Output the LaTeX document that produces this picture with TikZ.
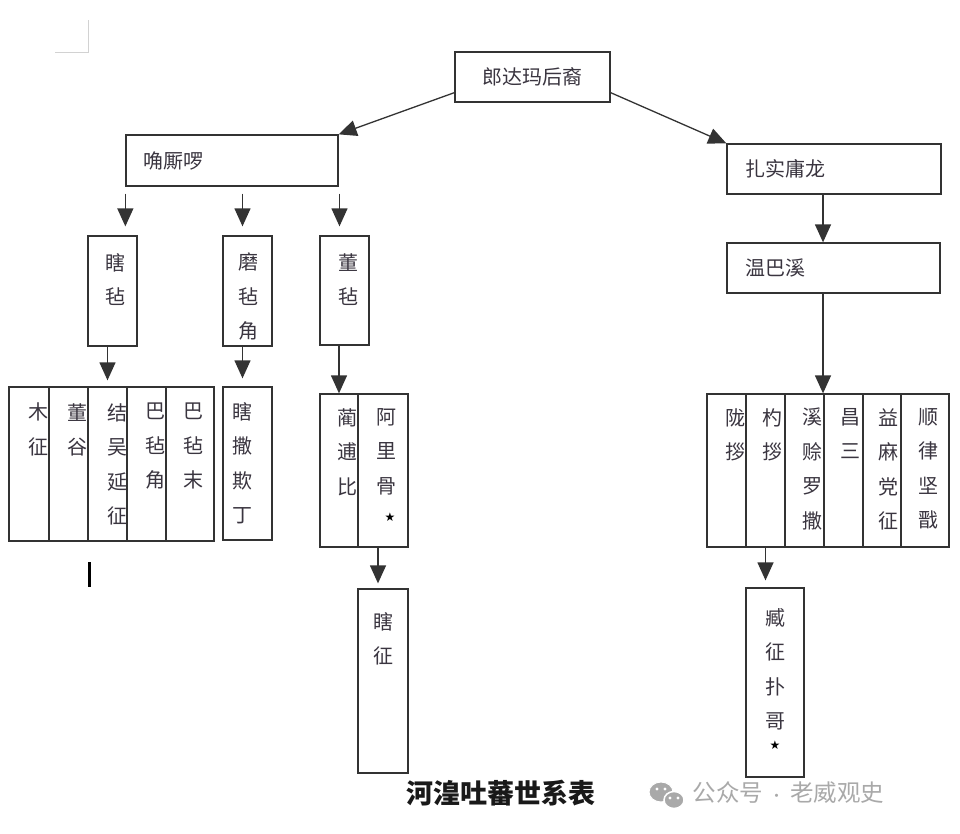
\documentclass[tikz,border=0pt]{standalone}
\usepackage{fontspec}
\setmainfont{Noto Sans CJK SC}
\newfontfamily\symfont{DejaVu Sans}
\usetikzlibrary{calc,arrows.meta}
\definecolor{boxline}{HTML}{333333}
\definecolor{inkgray}{HTML}{3A3540}
\definecolor{markgray}{HTML}{A9A9A9}

\begin{document}
\begin{tikzpicture}[x=1pt,y=-1pt,
  box/.style={draw=boxline,line width=1.3pt,inner sep=0pt},
  hbox/.style={box,text=inkgray,font=\fontsize{20}{24}\selectfont},
  vtext/.style={text=inkgray,inner sep=0pt,anchor=north,align=center,font=\fontsize{20}{34.5}\selectfont},
  starmark/.style={inner sep=0pt,text=black,font=\symfont\fontsize{12}{12}\selectfont},
  arr/.style={draw=boxline,line width=1.3pt,-{Triangle[length=18pt,width=16pt]}}]
\fill[white] (0,0) rectangle (960,833);
\useasboundingbox (0,0) rectangle (960,833);
\draw[gray!35,line width=1pt] (55,52) -- (88,52) -- (88,20);
% upper boxes
\node[hbox,minimum width=155pt,minimum height=50pt] (root) at (532.5,77) {郎达玛后裔};
\node[hbox,minimum height=51pt,text width=178pt,inner xsep=17pt,align=left] (jsl) at (232,160.5) {唃厮啰};
\node[hbox,minimum height=50pt,text width=178pt,inner xsep=18pt,align=left] (zsyl) at (834,169) {扎实庸龙};
\node[hbox,minimum height=50pt,text width=177pt,inner xsep=18pt,align=left] (wbx) at (833.5,268) {温巴溪};
% sons of jsl
\node[box,minimum width=49pt,minimum height=110pt] (xz) at (112.5,291) {};
\node[vtext] (xz-t) at (115,253) {瞎\\毡};
\node[box,minimum width=49pt,minimum height=110pt] (mzj) at (247.5,291) {};
\node[vtext] (mzj-t) at (248,253) {磨\\毡\\角};
\node[box,minimum width=49pt,minimum height=109pt] (dz) at (344.5,290.5) {};
\node[vtext] (dz-t) at (348,253) {董\\毡};
% third row, left
\foreach \n/\cx/\w/\tx/\t in {mz/29/40/38/{木\\征}, dg/68.5/39/77/{董\\谷}, jwyz/107.5/39/117/{结\\吴\\延\\征}, bzj/146.5/39/155/{巴\\毡\\角}, bzm/190/48/193/{巴\\毡\\末}} {
  \node[box,minimum width=\w pt,minimum height=154pt] (\n) at (\cx,464) {};
  \node[vtext] (\n-t) at (\tx,403) {\t};
}
\node[box,minimum width=49pt,minimum height=153pt] (xsqd) at (247.5,463.5) {};
\node[vtext] (xsqd-t) at (242,402) {瞎\\撒\\欺\\丁};
\foreach \n/\cx/\w/\tx/\t in {lbb/339/38/347/{蔺\\逋\\比}, alg/383/50/386/{阿\\里\\骨}} {
  \node[box,minimum width=\w pt,minimum height=153pt] (\n) at (\cx,470.5) {};
  \node[vtext] (\n-t) at (\tx,408) {\t};
}
\node[starmark] (alg-s) at (390,517) {★};
\node[box,minimum width=50pt,minimum height=184pt] (xzh) at (383,681) {};
\node[vtext] (xzh-t) at (383,612) {瞎\\征};
% third row, right
\foreach \n/\cx/\w/\tx/\t in {lz/726.5/39/735/{陇\\拶}, sz/765.5/39/772/{杓\\拶}, xslsa/804.5/39/812/{溪\\赊\\罗\\撒}, cs/843.5/39/850/{昌\\三}, ymdz/882/38/888/{益\\麻\\党\\征}, sljj/925/48/928/{顺\\律\\坚\\戬}} {
  \node[box,minimum width=\w pt,minimum height=153pt] (\n) at (\cx,470.5) {};
  \node[vtext] (\n-t) at (\tx,408) {\t};
}
\node[box,minimum width=58pt,minimum height=189pt] (zzpg) at (775,682.5) {};
\node[vtext] (zzpg-t) at (775,608) {臧\\征\\扑\\哥};
\node[starmark] (zzpg-s) at (775,745) {★};
% arrows
\draw[arr] ($(root.south west)+(0,-10)$) -- (jsl.north east);
\draw[arr] ($(root.south east)+(0,-10)$) -- (zsyl.north west);
\draw[arr] ($(jsl.south west)+(0,7)$) -- ($(jsl.south west |- xz.north)+(0,-9)$);
\draw[arr] ($(mzj.north |- jsl.south)+(-5,7)$) -- ($(mzj.north)+(-5,-9)$);
\draw[arr] ($(dz.north |- jsl.south)+(-5,7)$) -- ($(dz.north)+(-5,-9)$);
\draw[arr] (jwyz.north |- xz.south) -- ($(jwyz.north)+(0,-6)$);
\draw[arr] ($(mzj.south)+(-5,0)$) -- ($(xsqd.north)+(-5,-8)$);
\draw[arr] (lbb.north |- dz.south) -- (lbb.north);
\draw[arr] ($(alg.south)+(-5,0)$) -- ($(xzh.north)+(-5,-5)$);
\draw[arr] ($(zsyl.south)+(-11,0)$) -- ($(zsyl.south |- wbx.north)+(-11,0)$);
\draw[arr] ($(zsyl.south |- wbx.south)+(-11,0)$) -- ($(zsyl.south |- cs.north)+(-11,0)$);
\draw[arr] (sz.south) -- ($(sz.south |- zzpg.north)+(0,-7)$);
\draw[line width=3pt] (89,562) -- (89,587);
% title and mark
\node[font=\bfseries\fontsize{27}{27}\selectfont,text=black!90] (title) at (501,793) {河湟吐蕃世系表};
\filldraw[fill=markgray,draw=white,line width=1pt] (661,792) ellipse [x radius=12,y radius=10];
\filldraw[fill=markgray,draw=white,line width=1.5pt] (674,800) ellipse [x radius=10,y radius=8.5];
\foreach \p in {(657,789),(665,789),(670,798),(678,798)} { \fill[white] \p circle (1.6); }
\node[font=\fontsize{23.5}{24}\selectfont,text=markgray,anchor=west] (mark) at (689,793) {公众号\hspace{6pt}{\fontsize{15}{15}\selectfont·}\hspace{6pt}老威观史};
\end{tikzpicture}
\end{document}
